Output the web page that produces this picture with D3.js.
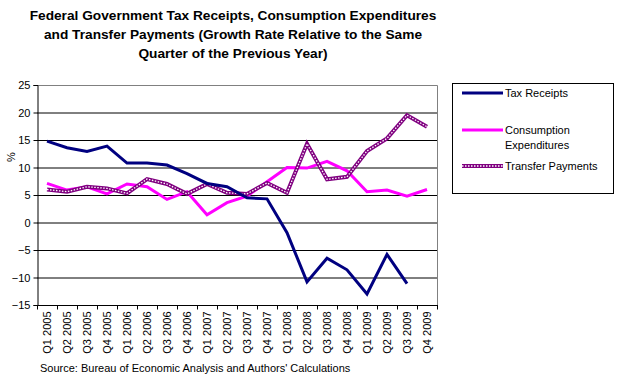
<!DOCTYPE html>
<html>
<head>
<meta charset="utf-8">
<script src="https://cdn.jsdelivr.net/npm/d3@7"></script>
<style>
  body { margin: 0; background: #fff; }
  svg { display: block; font-family: "Liberation Sans", Arial, sans-serif; }
</style>
</head>
<body>
<div id="chart"></div>
<script>
var quarters = ["Q1 2005", "Q2 2005", "Q3 2005", "Q4 2005",
                "Q1 2006", "Q2 2006", "Q3 2006", "Q4 2006",
                "Q1 2007", "Q2 2007", "Q3 2007", "Q4 2007",
                "Q1 2008", "Q2 2008", "Q3 2008", "Q4 2008",
                "Q1 2009", "Q2 2009", "Q3 2009", "Q4 2009"];

var taxReceipts = [14.8, 13.6, 12.9, 13.9, 10.8, 10.8, 10.45, 8.9, 7.1, 6.5,
                   4.5, 4.3, -1.85, -10.8, -6.5, -8.6, -13.0, -5.8, -11.1, null];

var consumption = [7.1, 5.9, 6.5, 5.2, 7.0, 6.5, 4.2, 5.6, 1.4, 3.6,
                   4.8, 7.4, 10.0, 9.9, 11.1, 9.4, 5.6, 5.9, 4.8, 6.0];

var transfers = [6.0, 5.6, 6.5, 6.2, 5.3, 7.9, 7.0, 5.2, 7.0, 5.4,
                 5.2, 7.2, 5.4, 14.3, 7.85, 8.3, 13.0, 15.3, 19.5, 17.4];

var yTicks = [25, 20, 15, 10, 5, 0, -5, -10, -15];

var titleLines = ["Federal Government Tax Receipts, Consumption Expenditures",
                  "and Transfer Payments (Growth Rate Relative to the Same",
                  "Quarter of the Previous Year)"];

var width = 617,
    height = 381;

var plot = { left: 37, right: 437, top: 85, bottom: 305 };

var svg = d3.select("#chart").append("svg")
    .attr("width", width)
    .attr("height", height);

var x = d3.scaleBand()
    .domain(quarters)
    .range([plot.left, plot.right]);

var y = d3.scaleLinear()
    .domain([-15, 25])
    .range([plot.bottom, plot.top]);

// title
svg.append("g").selectAll("text")
    .data(titleLines)
  .enter().append("text")
    .attr("x", 233)
    .attr("y", function(d, i) { return 20 + i * 19; })
    .attr("text-anchor", "middle")
    .style("font-size", "13.7px")
    .style("font-weight", "bold")
    .text(function(d) { return d; });

// grid lines
svg.append("g").selectAll("line")
    .data(yTicks.filter(function(d) { return d < 25 && d > -15; }))
  .enter().append("line")
    .attr("x1", plot.left)
    .attr("x2", plot.right)
    .attr("y1", function(d) { return y(d) + 0.5; })
    .attr("y2", function(d) { return y(d) + 0.5; })
    .attr("stroke", "#000")
    .attr("stroke-width", 1);

// gray frame top and right
svg.append("path")
    .attr("d", "M" + plot.left + "," + (plot.top + 0.5) + "H" + (plot.right + 0.5) + "V" + plot.bottom)
    .attr("fill", "none")
    .attr("stroke", "#808080");

// y axis
var yAxis = svg.append("g")
    .attr("transform", "translate(" + (plot.left + 0.5) + ",0)")
    .call(d3.axisLeft(y).tickValues(yTicks).tickSize(4).tickPadding(3));
yAxis.select(".domain").attr("stroke", "#000");
yAxis.selectAll("text")
    .style("font-size", "11px")
    .style("font-family", "Liberation Sans, Arial, sans-serif")
    .attr("fill", "#000");

// x axis, ticks on category boundaries
var xAxisG = svg.append("g")
    .attr("transform", "translate(0," + (plot.bottom + 0.5) + ")");
xAxisG.append("line")
    .attr("x1", plot.left)
    .attr("x2", plot.right + 1)
    .attr("stroke", "#000");
xAxisG.selectAll("line.tick")
    .data(quarters.concat(["end"]))
  .enter().append("line")
    .attr("class", "tick")
    .attr("x1", function(d, i) { return plot.left + i * x.bandwidth() + 0.5; })
    .attr("x2", function(d, i) { return plot.left + i * x.bandwidth() + 0.5; })
    .attr("y1", 0)
    .attr("y2", 4)
    .attr("stroke", "#000");
xAxisG.selectAll("text")
    .data(quarters)
  .enter().append("text")
    .attr("transform", function(d) {
      return "translate(" + (x(d) + x.bandwidth() / 2 + 4) + ",6) rotate(-90)";
    })
    .attr("text-anchor", "end")
    .style("font-size", "11px")
    .text(function(d) { return d; });

// y axis title
svg.append("text")
    .attr("transform", "translate(15,157) rotate(-90)")
    .attr("text-anchor", "middle")
    .style("font-size", "11px")
    .text("%");

// series lines
var line = d3.line()
    .defined(function(d) { return d != null; })
    .x(function(d, i) { return x(quarters[i]) + x.bandwidth() / 2; })
    .y(function(d) { return y(d); });

svg.append("path")
    .datum(consumption)
    .attr("d", line)
    .attr("fill", "none")
    .attr("stroke", "#ff00ff")
    .attr("stroke-width", 3);

svg.append("path")
    .datum(transfers)
    .attr("d", line)
    .attr("fill", "none")
    .attr("stroke", "#800080")
    .attr("stroke-width", 4);
svg.append("path")
    .datum(transfers)
    .attr("d", line)
    .attr("fill", "none")
    .attr("stroke", "#fff")
    .attr("stroke-width", 1.3)
    .attr("stroke-dasharray", "1.5,1.5");

svg.append("path")
    .datum(taxReceipts)
    .attr("d", line)
    .attr("fill", "none")
    .attr("stroke", "#000080")
    .attr("stroke-width", 3);

// legend
var legend = svg.append("g");
legend.append("rect")
    .attr("x", 452.5)
    .attr("y", 83.5)
    .attr("width", 161)
    .attr("height", 110)
    .attr("fill", "#fff")
    .attr("stroke", "#000");

var legendItems = [
  { name: ["Tax Receipts"], color: "#000080", y: 93, pattern: false },
  { name: ["Consumption", "Expenditures"], color: "#ff00ff", y: 130, pattern: false },
  { name: ["Transfer Payments"], color: "#800080", y: 166, pattern: true }
];

legendItems.forEach(function(d) {
  legend.append("line")
      .attr("x1", 462).attr("x2", 503)
      .attr("y1", d.y).attr("y2", d.y)
      .attr("stroke", d.color)
      .attr("stroke-width", d.pattern ? 4 : 3);
  if (d.pattern) {
    legend.append("line")
        .attr("x1", 462).attr("x2", 503)
        .attr("y1", d.y).attr("y2", d.y)
        .attr("stroke", "#fff")
        .attr("stroke-width", 1.3)
        .attr("stroke-dasharray", "1.5,1.5");
  }
  d.name.forEach(function(t, j) {
    legend.append("text")
        .attr("x", 505)
        .attr("y", d.y + 4 + j * 15)
        .style("font-size", "11px")
        .text(t);
  });
});

// source
svg.append("text")
    .attr("x", 40)
    .attr("y", 372)
    .style("font-size", "11px")
    .text("Source: Bureau of Economic Analysis and Authors' Calculations");
</script>
</body>
</html>
